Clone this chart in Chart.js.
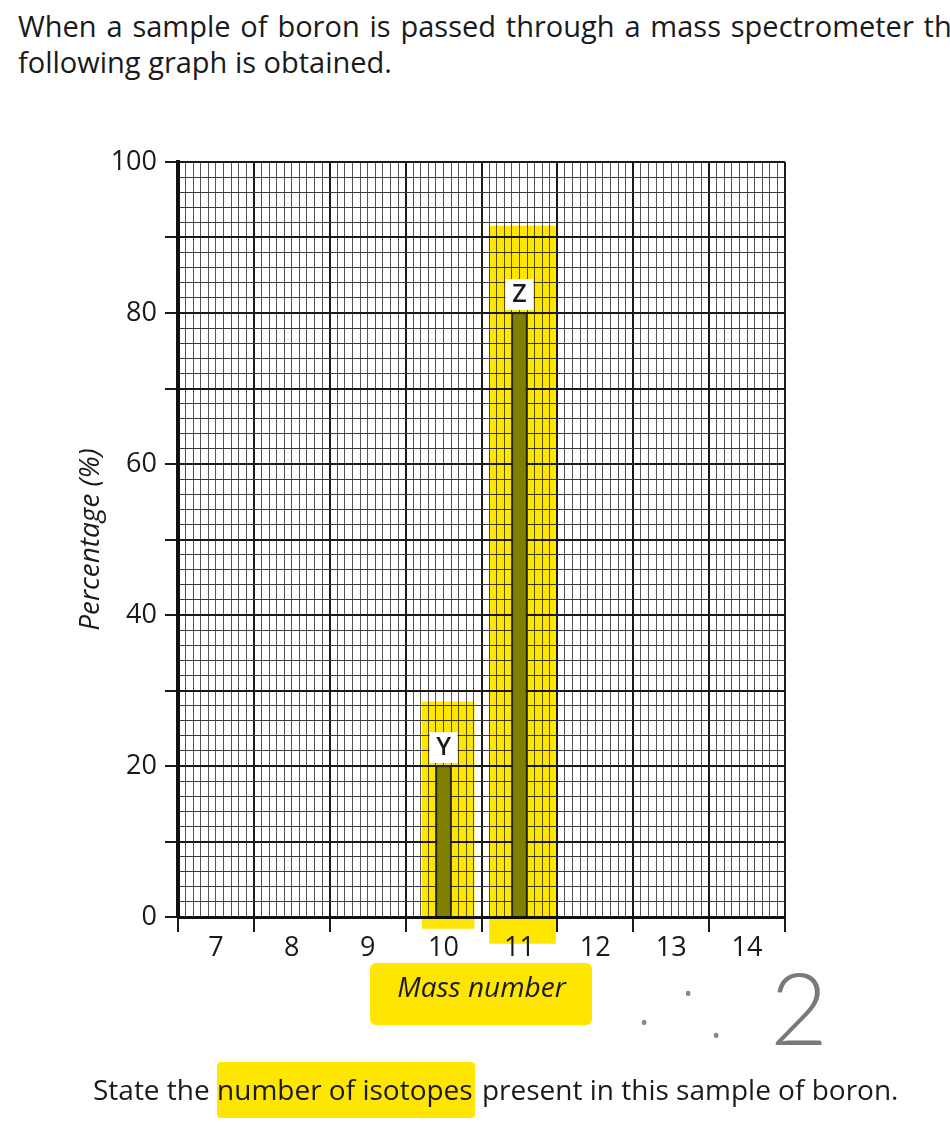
<!DOCTYPE html>
<html>
<head>
<meta charset="utf-8">
<script src="https://cdn.jsdelivr.net/npm/chart.js@4.4.0/dist/chart.umd.min.js"></script>
<style>
  html, body { margin: 0; padding: 0; background: #fff; }
  body { width: 950px; height: 1130px; position: relative; overflow: hidden;
         font-family: "Open Sans", sans-serif; color: #1a1a1a; }
  .q { position: absolute; left: 18px; font-size: 29px; white-space: nowrap; line-height: 36px; }
  .q.just { width: 950px; white-space: normal; text-align: justify; text-align-last: justify; }
  #mass-hl { position: absolute; left: 370px; top: 963px; width: 222px; height: 62px; background: #ffe600; border-radius: 6px; }
  #wrap { position: absolute; left: 0; top: 130px; width: 950px; height: 900px; }
  .dot { position: absolute; color: #888; font-size: 22px; }
  #answer { position: absolute; left: 770px; top: 956px; font-family: Lato, sans-serif; font-weight: 300;
            font-size: 100px; color: #7a7a7a; line-height: 1; }
  #ask { position: absolute; left: 93px; top: 1070px; font-size: 28px; white-space: nowrap; }
  #ask span { background: #ffe600; padding: 8px 2px 10px 0; border-radius: 4px; }
</style>
</head>
<body>
<div class="q just" style="top:8px">When a sample of boron is passed through a mass spectrometer the</div>
<div class="q" style="top:44px">following graph is obtained.</div>
<div id="mass-hl"></div>
<div id="wrap"><canvas id="spectrum" width="950" height="900"></canvas></div>
<span class="dot" style="left:640px;top:1006px">•</span>
<span class="dot" style="left:684px;top:977px">•</span>
<span class="dot" style="left:712px;top:1019px">•</span>
<div id="answer">2</div>
<div id="ask">State the <span>number of isotopes</span> present in this sample of boron.</div>

<script>
// mass spectrum of boron
const massNumbers = [10, 11];
const percentages = [20, 80];
const isotopeLabels = ["Y", "Z"];
const massTicks = [7, 8, 9, 10, 11, 12, 13, 14];
const percentTicks = [0, 20, 40, 60, 80, 100];

// student's highlighter strokes behind the bars (x centre, bottom, top)
const highlightYx = [10.06];
const highlightYrange = [[-1.5, 28.5]];
const highlightZx = [11.04];
const highlightZrange = [[-3.5, 91.5]];

const isInt = (v) => Math.abs(v - Math.round(v)) < 1e-6;
const isHalf = (v) => isInt(v * 2) && !isInt(v);
const isMajorY = (v) => Math.round(v) % 10 === 0;

const letterPlugin = {
  id: "letters",
  beforeDatasetDraw(chart, args) {
    if (args.index > 0) {
      chart.ctx.save();
      chart.ctx.globalCompositeOperation = "multiply";
    }
  },
  afterDatasetDraw(chart, args) {
    if (args.index > 0) chart.ctx.restore();
  },
  afterDatasetsDraw(chart) {
    const ctx = chart.ctx;
    chart.getDatasetMeta(0).data.forEach((bar, i) => {
      ctx.save();
      ctx.fillStyle = "#fff";
      ctx.fillRect(bar.x - 14, bar.y - 34, 28, 31);
      ctx.fillStyle = "#1a1a1a";
      ctx.font = '600 25px "Open Sans"';
      ctx.textAlign = "center";
      ctx.textBaseline = "middle";
      ctx.fillText(isotopeLabels[i], bar.x, bar.y - 18);
      ctx.restore();
    });
  },
};

const highlight = (xs, ranges, width) => ({
  label: "highlight",
  data: xs.map((x, i) => ({ x: x, y: ranges[i] })),
  backgroundColor: "#ffe600",
  borderWidth: 0,
  barThickness: width,
  grouped: false,
  clip: false,
});

const ctx = document.getElementById("spectrum").getContext("2d");
new Chart(ctx, {
  type: "bar",
  data: {
    datasets: [
      {
        label: "Percentage",
        data: massNumbers.map((m, i) => ({ x: m, y: percentages[i] })),
        backgroundColor: "#808000",
        borderColor: "#222",
        borderWidth: 1.5,
        barThickness: 15,
        grouped: false,
      },
      highlight(highlightYx, highlightYrange, 52),
      highlight(highlightZx, highlightZrange, 66),
    ],
  },
  options: {
    responsive: false,
    animation: false,
    layout: { padding: { left: 70, right: 165, top: 32, bottom: 20 } },
    plugins: { legend: { display: false }, tooltip: { enabled: false } },
    scales: {
      x: {
        type: "linear",
        min: 6.5,
        max: 14.5,
        offset: false,
        afterFit: (scale) => { scale.height = 93; },
        border: { color: "#111", width: 3 },
        grid: {
          offset: false,
          color: (c) => (isHalf(c.tick.value) ? "#1a1a1a" : "#555"),
          lineWidth: (c) => (isHalf(c.tick.value) ? 2 : 1),
          tickColor: (c) => (isHalf(c.tick.value) ? "#1a1a1a" : "rgba(0,0,0,0)"),
          tickWidth: 2,
          tickLength: 15,
        },
        ticks: {
          stepSize: 0.1,
          autoSkip: false,
          maxRotation: 0,
          minRotation: 0,
          padding: 0,
          color: "#1a1a1a",
          font: { family: "Open Sans", size: 27 },
          callback: (v) => (isInt(v) && massTicks.includes(Math.round(v)) ? String(Math.round(v)) : ""),
        },
        title: {
          display: true,
          text: "Mass number",
          color: "#1a1a1a",
          font: { family: "Open Sans", size: 28, style: "italic" },
        },
      },
      y: {
        min: 0,
        max: 100,
        afterFit: (scale) => { scale.width = 108; },
        border: { color: "#111", width: 4 },
        grid: {
          color: (c) => (isMajorY(c.tick.value) ? "#1a1a1a" : "#3a3a3a"),
          lineWidth: (c) => (isMajorY(c.tick.value) ? 2 : 1),
          tickColor: (c) => (isMajorY(c.tick.value) ? "#1a1a1a" : "rgba(0,0,0,0)"),
          tickWidth: 2,
          tickLength: 13,
        },
        ticks: {
          stepSize: 2,
          autoSkip: false,
          padding: 8,
          color: "#1a1a1a",
          font: { family: "Open Sans", size: 27 },
          callback: (v) => (percentTicks.includes(Math.round(v)) && isInt(v) ? String(Math.round(v)) : ""),
        },
        title: {
          display: true,
          text: "Percentage (%)",
          color: "#1a1a1a",
          font: { family: "Open Sans", size: 28, style: "italic" },
        },
      },
    },
  },
  plugins: [letterPlugin],
});
</script>
</body>
</html>
